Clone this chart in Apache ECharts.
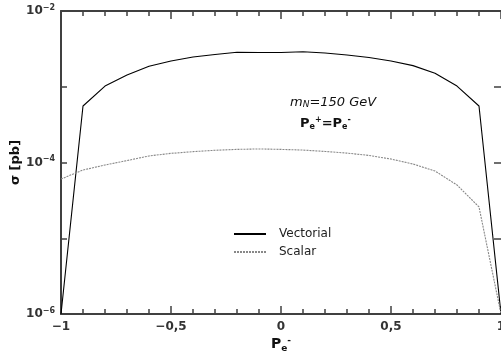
<!DOCTYPE html>
<html>
<head>
<meta charset="utf-8">
<script src="https://cdn.jsdelivr.net/npm/echarts@6/dist/echarts.min.js"></script>
<style>
html,body{margin:0;padding:0;background:#fff;}
#chart{width:501px;height:361px;}
</style>
</head>
<body>
<div id="chart"></div>
<script>
// Polarization P_e- values
const polarization = [-1, -0.9, -0.8, -0.7, -0.6, -0.5, -0.4, -0.3, -0.2, -0.1, 0, 0.1, 0.2, 0.3, 0.4, 0.5, 0.6, 0.7, 0.8, 0.9, 1];
// Cross sections in pb
const vectorial = [1.0e-6, 5.57e-4, 1.02e-3, 1.43e-3, 1.86e-3, 2.19e-3, 2.47e-3, 2.67e-3, 2.85e-3, 2.83e-3, 2.83e-3, 2.90e-3, 2.79e-3, 2.63e-3, 2.43e-3, 2.19e-3, 1.90e-3, 1.51e-3, 1.02e-3, 5.57e-4, 1.0e-6];
const scalar = [6.05e-5, 7.96e-5, 9.27e-5, 1.06e-4, 1.22e-4, 1.32e-4, 1.39e-4, 1.45e-4, 1.49e-4, 1.51e-4, 1.49e-4, 1.46e-4, 1.40e-4, 1.33e-4, 1.24e-4, 1.11e-4, 9.55e-5, 7.72e-5, 5.05e-5, 2.59e-5, 1.0e-6];
const seriesNames = ['Vectorial', 'Scalar'];
const yLabeledExponents = [-2, -4, -6];

const FONT = 'DejaVu Sans';
const AX = '#404040';

function pairs(ys){ return polarization.map((x,i)=>[x, ys[i]]); }

const chart = echarts.init(document.getElementById('chart'), null, {renderer:'canvas'});

function xLabel(v){
  if (Math.abs(v) < 1e-9) return '0';
  let s = String(Math.round(v*10)/10).replace('.', ',');
  return s.replace('-', '\u2212');
}
function yLabel(v){
  const e = Math.round(Math.log10(v));
  if (yLabeledExponents.indexOf(e) < 0) return '';
  return '{b|10}{s|' + String(e).replace('-', '\u2212') + '}';
}

const option = {
  animation: false,
  backgroundColor: '#fff',
  grid: {left: 61, top: 11, right: 0, bottom: 47, containLabel: false, outerBoundsMode: 'none'},
  xAxis: [{
    type: 'value', min: -1, max: 1, interval: 0.5, position: 'bottom',
    axisLine: {show: true, onZero: false, lineStyle: {color: AX, width: 2}},
    axisTick: {show: true, inside: true, length: 8, lineStyle: {color: AX, width: 1.5}},
    minorTick: {show: true, splitNumber: 5, length: 5, lineStyle: {color: AX, width: 1.5}},
    splitLine: {show: false},
    axisLabel: {formatter: xLabel, fontFamily: FONT, fontWeight: 'bold', fontSize: 12, color: '#333', margin: 7},
    name: '{p|P}{sub|e}{sup|-}', nameLocation: 'middle', nameGap: 22, nameMoveOverlap: false,
    nameTextStyle: {rich: {
      p: {fontFamily: FONT, fontWeight: 'bold', fontSize: 14, color: '#111'},
      sub: {fontFamily: FONT, fontWeight: 'bold', fontSize: 9, color: '#111', verticalAlign: 'bottom', padding: [6,0,0,0]},
      sup: {fontFamily: FONT, fontWeight: 'bold', fontSize: 9, color: '#111', verticalAlign: 'top', padding: [0,0,8,0]}
    }}
  }, {
    type: 'value', min: -1, max: 1, interval: 0.5, position: 'top',
    axisLine: {show: true, onZero: false, lineStyle: {color: AX, width: 2}},
    axisTick: {show: true, inside: true, length: 8, lineStyle: {color: AX, width: 1.5}},
    minorTick: {show: true, splitNumber: 5, length: 5, lineStyle: {color: AX, width: 1.5}},
    splitLine: {show: false},
    axisLabel: {show: false}
  }],
  yAxis: [{
    type: 'log', logBase: 10, min: 1e-6, max: 1e-2, position: 'left',
    axisLine: {show: true, onZero: false, lineStyle: {color: AX, width: 2}},
    axisTick: {show: true, inside: true, length: 6, lineStyle: {color: AX, width: 1.5}},
    splitLine: {show: false},
    axisLabel: {formatter: yLabel, margin: 6, rich: {
      b: {fontFamily: FONT, fontWeight: 'bold', fontSize: 12, color: '#333'},
      s: {fontFamily: FONT, fontWeight: 'bold', fontSize: 8, color: '#333', verticalAlign: 'top', padding: [0,0,7,0]}
    }},
    name: 'σ [pb]', nameLocation: 'middle', nameGap: 39, nameRotate: 90, nameMoveOverlap: false,
    nameTextStyle: {fontFamily: FONT, fontWeight: 'bold', fontSize: 13, color: '#111'}
  }, {
    type: 'log', logBase: 10, min: 1e-6, max: 1e-2, position: 'right',
    axisLine: {show: false, onZero: false, lineStyle: {color: AX, width: 2}},
    axisTick: {show: true, inside: true, length: 7, lineStyle: {color: AX, width: 1.5}},
    splitLine: {show: false},
    axisLabel: {show: false}
  }],
  legend: {
    left: 228, top: 223, orient: 'vertical', itemGap: 6,
    itemWidth: 32, itemHeight: 10,
    data: seriesNames,
    itemStyle: {opacity: 0},
    textStyle: {fontFamily: FONT, fontSize: 12, color: '#222', padding: [0,0,0,8]}
  },
  series: [{
    name: seriesNames[0], type: 'line', symbol: 'none', xAxisIndex: 0, yAxisIndex: 0,
    data: pairs(vectorial),
    lineStyle: {color: '#000', width: 1.1, type: 'solid'},
    itemStyle: {color: '#555'}
  }, {
    name: seriesNames[1], type: 'line', symbol: 'none', xAxisIndex: 0, yAxisIndex: 0,
    data: pairs(scalar),
    lineStyle: {color: '#888', width: 1.1, type: [2, 1]},
    itemStyle: {color: '#999'}
  }],
  graphic: [{
    type: 'text', left: 290, top: 96,
    style: {
      text: '{i|m}{sub|N}{i|=150 GeV}',
      rich: {
        i: {fontFamily: FONT, fontStyle: 'italic', fontSize: 13, fill: '#111'},
        sub: {fontFamily: FONT, fontStyle: 'italic', fontSize: 9, fill: '#111', padding: [5,0,0,0]}
      }
    }
  }, {
    type: 'text', left: 300, top: 116,
    style: {
      text: '{p|P}{sub|e}{sup|+}{p|=P}{sub|e}{sup|-}',
      rich: {
        p: {fontFamily: FONT, fontWeight: 'bold', fontSize: 13, fill: '#111'},
        sub: {fontFamily: FONT, fontWeight: 'bold', fontSize: 8, fill: '#111', padding: [6,0,0,0]},
        sup: {fontFamily: FONT, fontWeight: 'bold', fontSize: 8, fill: '#111', padding: [0,0,8,0]}
      }
    }
  }]
};
chart.setOption(option);
</script>
</body>
</html>
